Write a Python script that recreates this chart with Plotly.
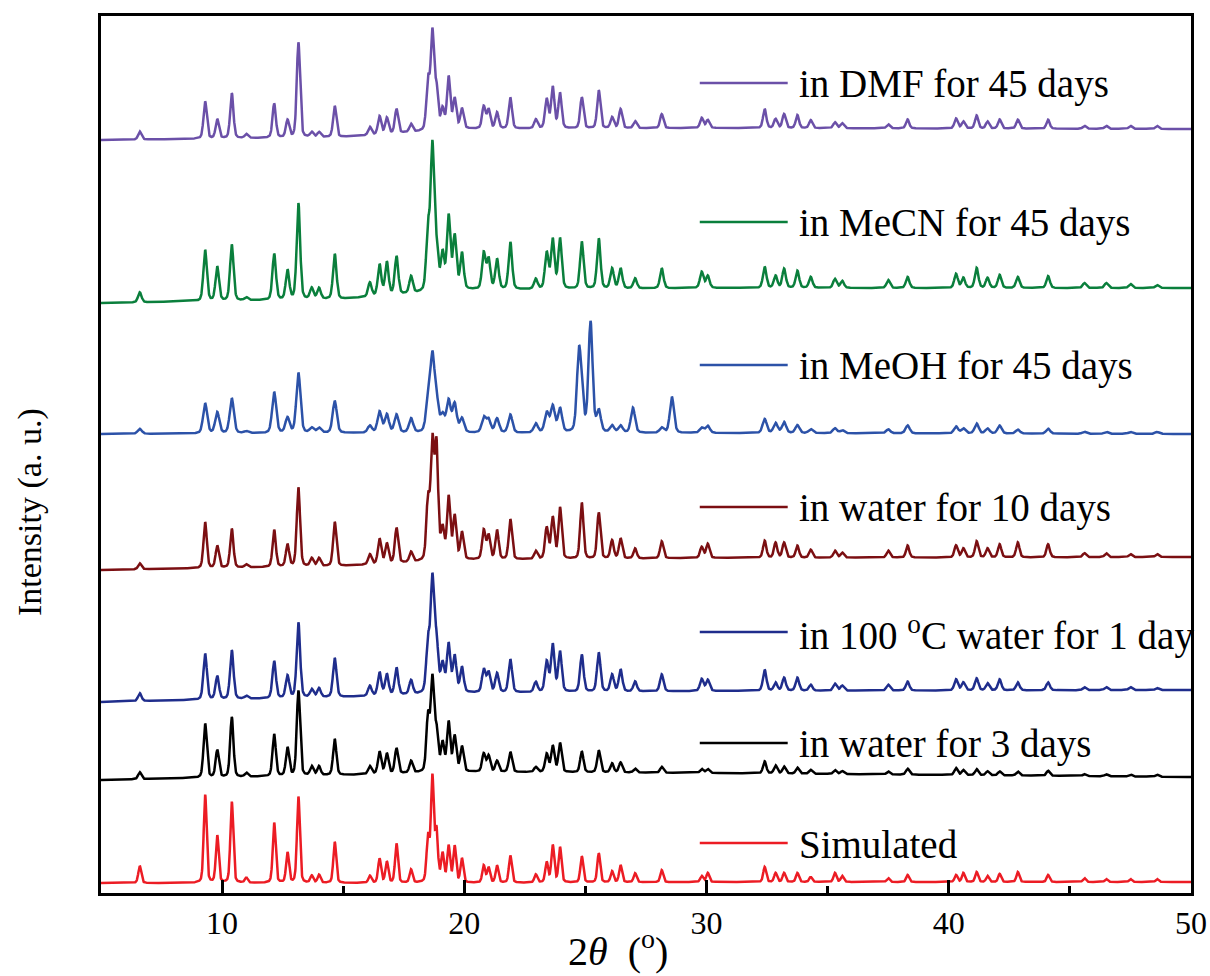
import numpy as np
import plotly.graph_objects as go

# ---- data (y in plot units, 0..877) ----
names = ["Simulated", "in water for 3 days", "in 100 <sup>o</sup>C water for 1 day",
         "in water for 10 days", "in MeOH for 45 days", "in MeCN for 45 days", "in DMF for 45 days"]
colors = ["#ec1c24", "#000000", "#1f2d8c", "#7b0f12", "#2c52a8", "#0a7f3c", "#6b50a8"]

# baseline of each pattern at these 2-theta positions
base_x = [5, 15, 20, 30, 50]
base_sim = [10, 10, 10, 11, 11]
base_w3 = [113, 118, 121, 120, 116]
base_w100 = [191, 196, 200, 202, 203]
base_w10 = [323, 327, 333, 335, 336]
base_meoh = [459, 460, 460, 460, 459]
base_mecn = [590, 594, 603, 605, 605]
base_dmf = [753, 756, 764, 765, 764]

# peak positions (2-theta, degrees)
peak_pos = [6.6, 9.3, 9.8, 10.4, 11.0, 12.15, 12.7, 13.15, 13.7, 14.0,
            14.65, 16.1, 16.5, 16.8, 17.2, 17.8, 18.5, 18.68, 18.85, 19.1,
            19.35, 19.6, 19.9, 20.8, 21.0, 21.35, 21.9, 22.95, 23.4, 23.65,
            23.95, 24.73, 24.85, 25.21, 25.55, 26.1, 26.45, 26.96, 27.05, 28.15,
            28.57, 29.8, 30.05, 32.4, 32.85, 33.2, 33.75, 34.3, 35.3, 35.6,
            37.5, 38.3, 40.3, 40.6, 41.15, 41.6, 42.1, 42.85, 44.1, 45.6,
            46.5, 47.5, 48.6]

# peak heights above baseline, one list per pattern (same order as peak_pos)
h_sim = [17, 88, 47, 81, 5, 60, 30, 86, 7, 8,
         41, 7, 24, 21, 39, 13, 45, 104, 50, 28,
         36, 36, 24, 17, 15, 17, 27, 8, 20, 37,
         35, 0, 26, 0, 29, 11, 17, 0, 9, 12,
         0, 6, 9, 15, 9, 9, 9, 5, 9, 6,
         4, 7, 7, 9, 10, 6, 8, 10, 7, 4,
         3, 3, 3]
h_w3 = [7, 54, 27, 60, 4, 42, 28, 85, 9, 9,
        36, 8, 22, 20, 25, 12, 55, 91, 40, 28,
        49, 35, 25, 18, 16, 11, 20, 5, 18, 26,
        29, 0, 21, 0, 22, 9, 10, 0, 4, 6,
        0, 4, 4, 12, 8, 7, 6, 4, 4, 3,
        3, 6, 7, 5, 6, 4, 4, 4, 5, 2,
        2, 2, 2]
h_w100 = [8, 46, 23, 49, 3, 37, 22, 75, 8, 9,
          39, 10, 23, 21, 27, 14, 50, 111, 50, 28,
          48, 36, 25, 23, 20, 19, 33, 10, 30, 47,
          40, 0, 37, 0, 39, 17, 22, 0, 10, 17,
          0, 12, 11, 21, 8, 13, 13, 6, 7, 5,
          6, 9, 11, 8, 12, 7, 11, 8, 8, 3,
          3, 3, 2]
h_w10 = [6, 46, 22, 39, 3, 37, 22, 79, 8, 8,
         44, 10, 25, 20, 35, 10, 60, 114, 112, 30,
         62, 43, 27, 29, 24, 29, 40, 8, 31, 41,
         51, 0, 56, 0, 46, 18, 20, 0, 10, 17,
         0, 11, 14, 17, 15, 15, 12, 8, 7, 5,
         7, 12, 12, 9, 16, 9, 13, 15, 13, 4,
         4, 3, 3]
h_meoh = [5, 30, 21, 35, 2, 41, 15, 60, 5, 5,
          32, 7, 21, 18, 18, 14, 30, 72, 30, 16,
          31, 28, 14, 15, 13, 14, 18, 9, 20, 26,
          24, 76, 24, 110, 21, 7, 7, 25, 0, 5,
          36, 5, 7, 14, 10, 11, 8, 4, 5, 3,
          4, 8, 7, 5, 10, 5, 8, 4, 5, 2,
          2, 2, 2]
h_mecn = [10, 51, 34, 56, 3, 46, 29, 96, 11, 11,
          45, 14, 31, 33, 38, 17, 60, 142, 40, 36,
          73, 53, 36, 36, 30, 30, 47, 10, 36, 49,
          50, 0, 47, 0, 50, 20, 20, 0, 10, 20,
          0, 16, 12, 21, 12, 19, 17, 11, 9, 7,
          8, 11, 14, 10, 20, 10, 13, 11, 12, 5,
          5, 4, 3]
h_dmf = [8, 37, 19, 45, 4, 34, 17, 95, 5, 5,
         31, 8, 18, 16, 24, 8, 50, 96, 40, 20,
         52, 30, 20, 22, 19, 16, 31, 9, 29, 41,
         35, 0, 31, 0, 38, 11, 19, 0, 7, 14,
         0, 10, 8, 19, 9, 14, 13, 8, 6, 5,
         4, 9, 10, 7, 13, 7, 9, 9, 9, 3,
         3, 3, 3]
peak_fwhm = [0.14, 0.16, 0.17, 0.16, 0.2, 0.17, 0.16]   # profile width per pattern

# label line heights (plot units) of the in-plot legend
label_y = [50, 150, 261, 386, 528, 671, 810]

x_ticks = [10, 20, 30, 40, 50]

# ---- build figure ----
bases = [base_sim, base_w3, base_w100, base_w10, base_meoh, base_mecn, base_dmf]
heights = [h_sim, h_w3, h_w100, h_w10, h_meoh, h_mecn, h_dmf]

x = np.round(np.arange(5.0, 50.0001, 0.01), 3)
P = np.array(peak_pos)

def pattern(hts, fw, base):
    d = x[:, None] - P[None, :]
    g = np.exp(-4 * np.log(2) * (d / fw) ** 2)
    l = 1.0 / (1.0 + 4 * (d / fw) ** 2)
    prof = 0.7 * g + 0.3 * l
    return np.interp(x, base_x, base) + prof @ np.array(hts, dtype=float)

fig = go.Figure()
for nm, col, hts, fw, bs in zip(names, colors, heights, peak_fwhm, bases):
    fig.add_trace(go.Scatter(x=x, y=pattern(hts, fw, bs), mode="lines",
                             line=dict(color=col, width=2.5), name=nm,
                             showlegend=False, hoverinfo="skip"))

FONT = "Liberation Serif, Times New Roman, serif"
for nm, col, ly in zip(names, colors, label_y):
    fig.add_shape(type="line", xref="x", yref="y", x0=29.72, x1=33.35, y0=ly, y1=ly,
                  line=dict(color=col, width=2.5))
    fig.add_annotation(x=33.72, y=ly, xref="x", yref="y", text=nm, showarrow=False,
                       xanchor="left", yanchor="middle", yshift=-1,
                       font=dict(family=FONT, size=39, color="black"))

fig.add_annotation(xref="paper", yref="paper", x=(618 - 101) / 1090, y=-83 / 877,
                   text="2<i>θ</i>&nbsp; (<sup>o</sup>)", showarrow=False,
                   xanchor="center", yanchor="bottom",
                   font=dict(family=FONT, size=40, color="black"))
fig.add_annotation(xref="paper", yref="paper", x=(30 - 101) / 1090, y=(893 - 512) / 877,
                   text="Intensity (a. u.)", showarrow=False, textangle=-90,
                   xanchor="center", yanchor="middle",
                   font=dict(family=FONT, size=34, color="black"))

fig.update_layout(
    width=1210, height=976, autosize=False,
    margin=dict(l=101, r=19, t=16, b=83, pad=0, autoexpand=False),
    paper_bgcolor="white", plot_bgcolor="white",
    xaxis=dict(range=[5, 50], tickvals=x_ticks, ticktext=[str(v) for v in x_ticks],
               ticks="inside", ticklen=13, tickwidth=2.5, tickcolor="black",
               minor=dict(ticks="inside", ticklen=7, tickwidth=2.5, tickcolor="black",
                          tick0=5, dtick=5),
               showline=True, linewidth=2.5, linecolor="black", mirror=True,
               showgrid=False, zeroline=False, ticklabelstandoff=0, automargin=False,
               tickfont=dict(family=FONT, size=32, color="black")),
    yaxis=dict(range=[0, 877], showticklabels=False, ticks="", automargin=False,
               showline=True, linewidth=2.5, linecolor="black", mirror=True,
               showgrid=False, zeroline=False),
)

fig.write_html("out.html")
